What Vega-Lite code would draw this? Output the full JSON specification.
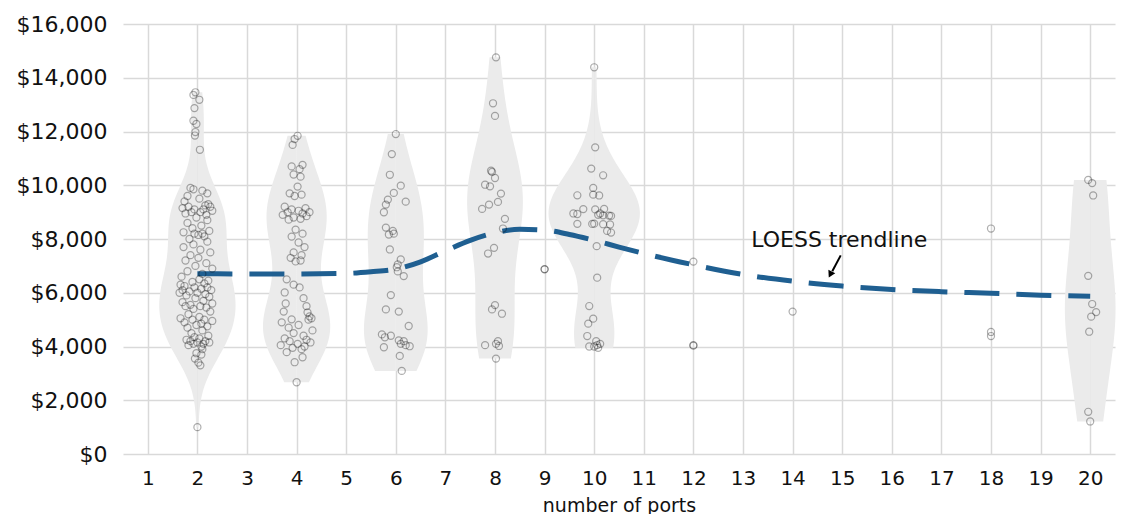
{
  "$schema": "https://vega.github.io/schema/vega-lite/v6.json",
  "width": 992,
  "height": 430,
  "autosize": "none",
  "padding": {"left": 123, "top": 24, "right": 12, "bottom": 60},
  "background": "white",
  "config": {
    "view": {"stroke": null},
    "font": "DejaVu Sans",
    "axis": {"labelFont": "DejaVu Sans", "titleFont": "DejaVu Sans", "labelColor": "#111", "titleColor": "#111", "gridColor": "#d9d9d9", "gridWidth": 1.5, "domain": false, "ticks": false}
  },
  "datasets": {
    "prices": [
      {"port":2,"price":13460,"jit":-0.04},{"port":2,"price":13360,"jit":-0.08},{"port":2,"price":13180,"jit":0.04},{"port":2,"price":12870,"jit":-0.06},{"port":2,"price":12400,"jit":-0.08},{"port":2,"price":12280,"jit":-0.02},{"port":2,"price":11980,"jit":-0.04},{"port":2,"price":11850,"jit":-0.05},{"port":2,"price":11320,"jit":0.05},
      {"port":2,"price":9900,"jit":-0.14},{"port":2,"price":9850,"jit":-0.08},{"port":2,"price":9800,"jit":0.1},{"port":2,"price":9700,"jit":0.2},{"port":2,"price":9600,"jit":-0.2},{"port":2,"price":9500,"jit":0.04},{"port":2,"price":9400,"jit":-0.26},
      {"port":2,"price":9300,"jit":0.22},{"port":2,"price":9250,"jit":0.16},{"port":2,"price":9200,"jit":-0.18},{"port":2,"price":9200,"jit":0.26},{"port":2,"price":9150,"jit":-0.3},{"port":2,"price":9100,"jit":0.12},{"port":2,"price":9100,"jit":-0.06},{"port":2,"price":9050,"jit":0.3},{"port":2,"price":9000,"jit":-0.12},{"port":2,"price":9000,"jit":0.06},{"port":2,"price":8950,"jit":-0.24},{"port":2,"price":8900,"jit":0.18},
      {"port":2,"price":8800,"jit":-0.02},{"port":2,"price":8700,"jit":0.2},{"port":2,"price":8600,"jit":-0.2},{"port":2,"price":8500,"jit":0.08},{"port":2,"price":8400,"jit":-0.1},
      {"port":2,"price":8300,"jit":0.24},{"port":2,"price":8250,"jit":-0.28},{"port":2,"price":8200,"jit":0.1},{"port":2,"price":8200,"jit":-0.06},{"port":2,"price":8150,"jit":0.02},{"port":2,"price":8100,"jit":0.14},{"port":2,"price":8000,"jit":-0.16},
      {"port":2,"price":7900,"jit":0.2},{"port":2,"price":7800,"jit":-0.08},{"port":2,"price":7700,"jit":-0.28},{"port":2,"price":7600,"jit":0.06},{"port":2,"price":7500,"jit":0.26},{"port":2,"price":7400,"jit":-0.14},{"port":2,"price":7300,"jit":0.02},{"port":2,"price":7200,"jit":-0.24},{"port":2,"price":7100,"jit":0.18},{"port":2,"price":7000,"jit":-0.04},
      {"port":2,"price":6900,"jit":0.3},{"port":2,"price":6800,"jit":-0.2},{"port":2,"price":6700,"jit":0.1},{"port":2,"price":6600,"jit":-0.32},{"port":2,"price":6500,"jit":0.04},{"port":2,"price":6450,"jit":0.22},{"port":2,"price":6400,"jit":-0.1},{"port":2,"price":6350,"jit":0.14},
      {"port":2,"price":6300,"jit":-0.34},{"port":2,"price":6250,"jit":-0.26},{"port":2,"price":6200,"jit":0.2},{"port":2,"price":6200,"jit":-0.06},{"port":2,"price":6150,"jit":0.08},{"port":2,"price":6100,"jit":-0.3},{"port":2,"price":6100,"jit":0.28},{"port":2,"price":6050,"jit":-0.16},{"port":2,"price":6000,"jit":0.0},{"port":2,"price":6000,"jit":-0.36},{"port":2,"price":5950,"jit":0.16},{"port":2,"price":5900,"jit":-0.22},
      {"port":2,"price":5850,"jit":0.24},{"port":2,"price":5800,"jit":-0.04},{"port":2,"price":5700,"jit":0.12},{"port":2,"price":5650,"jit":-0.3},{"port":2,"price":5600,"jit":0.3},{"port":2,"price":5550,"jit":-0.14},{"port":2,"price":5500,"jit":0.06},{"port":2,"price":5500,"jit":-0.24},{"port":2,"price":5450,"jit":0.18},{"port":2,"price":5400,"jit":-0.08},
      {"port":2,"price":5300,"jit":0.26},{"port":2,"price":5200,"jit":-0.18},{"port":2,"price":5100,"jit":0.04},{"port":2,"price":5050,"jit":-0.34},{"port":2,"price":5000,"jit":0.14},{"port":2,"price":5000,"jit":-0.1},{"port":2,"price":4950,"jit":0.3},{"port":2,"price":4900,"jit":-0.26},{"port":2,"price":4850,"jit":0.08},{"port":2,"price":4800,"jit":-0.02},{"port":2,"price":4750,"jit":0.2},{"port":2,"price":4700,"jit":-0.2},
      {"port":2,"price":4600,"jit":0.1},{"port":2,"price":4500,"jit":-0.12},{"port":2,"price":4400,"jit":0.22},{"port":2,"price":4350,"jit":-0.06},{"port":2,"price":4300,"jit":0.04},{"port":2,"price":4250,"jit":-0.22},{"port":2,"price":4200,"jit":0.16},{"port":2,"price":4200,"jit":-0.14},{"port":2,"price":4150,"jit":0.0},{"port":2,"price":4150,"jit":0.24},{"port":2,"price":4100,"jit":-0.08},{"port":2,"price":4100,"jit":0.12},{"port":2,"price":4050,"jit":-0.18},{"port":2,"price":4000,"jit":0.08},
      {"port":2,"price":3900,"jit":0.1},{"port":2,"price":3750,"jit":-0.02},{"port":2,"price":3700,"jit":0.08},{"port":2,"price":3550,"jit":-0.05},{"port":2,"price":3400,"jit":0.02},{"port":2,"price":3300,"jit":0.06},{"port":2,"price":1000,"jit":0.0},

      {"port":4,"price":11840,"jit":0.02},{"port":4,"price":11720,"jit":-0.04},{"port":4,"price":11500,"jit":-0.08},{"port":4,"price":10760,"jit":0.12},{"port":4,"price":10700,"jit":-0.1},{"port":4,"price":10600,"jit":0.06},{"port":4,"price":10400,"jit":-0.06},{"port":4,"price":10320,"jit":0.08},{"port":4,"price":9950,"jit":0.02},{"port":4,"price":9700,"jit":-0.14},{"port":4,"price":9650,"jit":0.1},{"port":4,"price":9600,"jit":-0.04},
      {"port":4,"price":9200,"jit":-0.24},{"port":4,"price":9150,"jit":0.18},{"port":4,"price":9100,"jit":-0.1},{"port":4,"price":9050,"jit":0.04},{"port":4,"price":9000,"jit":-0.18},{"port":4,"price":9000,"jit":0.26},{"port":4,"price":8950,"jit":0.12},{"port":4,"price":8900,"jit":-0.28},{"port":4,"price":8850,"jit":0.2},{"port":4,"price":8800,"jit":-0.06},{"port":4,"price":8750,"jit":0.08},{"port":4,"price":8720,"jit":-0.16},
      {"port":4,"price":8350,"jit":-0.02},{"port":4,"price":8200,"jit":0.12},{"port":4,"price":8090,"jit":-0.1},{"port":4,"price":7870,"jit":0.04},{"port":4,"price":7700,"jit":0.16},{"port":4,"price":7500,"jit":-0.06},{"port":4,"price":7400,"jit":0.1},{"port":4,"price":7300,"jit":-0.12},{"port":4,"price":7200,"jit":0.08},{"port":4,"price":7165,"jit":-0.02},
      {"port":4,"price":6500,"jit":-0.2},{"port":4,"price":6300,"jit":-0.06},{"port":4,"price":6200,"jit":0.06},{"port":4,"price":6010,"jit":-0.24},{"port":4,"price":5800,"jit":0.14},{"port":4,"price":5600,"jit":-0.22},{"port":4,"price":5500,"jit":0.2},{"port":4,"price":5300,"jit":-0.26},{"port":4,"price":5270,"jit":0.22},{"port":4,"price":5120,"jit":0.26},{"port":4,"price":5050,"jit":0.3},{"port":4,"price":5010,"jit":-0.1},
      {"port":4,"price":5000,"jit":0.24},{"port":4,"price":4900,"jit":-0.3},{"port":4,"price":4800,"jit":0.04},{"port":4,"price":4700,"jit":-0.16},{"port":4,"price":4600,"jit":0.32},{"port":4,"price":4500,"jit":-0.06},{"port":4,"price":4400,"jit":0.14},{"port":4,"price":4300,"jit":-0.24},{"port":4,"price":4250,"jit":0.2},{"port":4,"price":4200,"jit":-0.14},{"port":4,"price":4150,"jit":0.28},{"port":4,"price":4100,"jit":0.02},{"port":4,"price":4050,"jit":-0.32},{"port":4,"price":4000,"jit":0.16},{"port":4,"price":3950,"jit":-0.08},{"port":4,"price":3900,"jit":0.1},
      {"port":4,"price":3790,"jit":-0.2},{"port":4,"price":3600,"jit":0.12},{"port":4,"price":3415,"jit":-0.04},{"port":4,"price":2670,"jit":0.0},

      {"port":6,"price":11905,"jit":0.0},{"port":6,"price":11160,"jit":-0.08},{"port":6,"price":10390,"jit":-0.12},{"port":6,"price":9985,"jit":0.1},{"port":6,"price":9714,"jit":-0.04},{"port":6,"price":9466,"jit":-0.16},{"port":6,"price":9390,"jit":0.2},{"port":6,"price":9280,"jit":-0.2},{"port":6,"price":8995,"jit":-0.24},{"port":6,"price":8425,"jit":-0.2},{"port":6,"price":8300,"jit":-0.06},{"port":6,"price":8166,"jit":-0.14},{"port":6,"price":8200,"jit":-0.04},
      {"port":6,"price":7610,"jit":-0.12},{"port":6,"price":7240,"jit":0.1},{"port":6,"price":7054,"jit":0.04},{"port":6,"price":6950,"jit":0.02},{"port":6,"price":6795,"jit":0.04},{"port":6,"price":6620,"jit":0.16},{"port":6,"price":5914,"jit":-0.1},{"port":6,"price":5380,"jit":-0.2},{"port":6,"price":5300,"jit":0.06},{"port":6,"price":4763,"jit":0.26},
      {"port":6,"price":4450,"jit":-0.28},{"port":6,"price":4400,"jit":-0.1},{"port":6,"price":4343,"jit":-0.22},{"port":6,"price":4230,"jit":0.06},{"port":6,"price":4200,"jit":0.16},{"port":6,"price":4100,"jit":0.1},{"port":6,"price":4050,"jit":0.2},{"port":6,"price":4010,"jit":0.28},{"port":6,"price":3972,"jit":-0.24},{"port":6,"price":3650,"jit":0.08},{"port":6,"price":3093,"jit":0.12},

      {"port":8,"price":14760,"jit":0.02},{"port":8,"price":13050,"jit":-0.04},{"port":8,"price":12580,"jit":0.0},{"port":8,"price":10540,"jit":-0.08},{"port":8,"price":10500,"jit":-0.06},{"port":8,"price":10270,"jit":0.0},{"port":8,"price":10020,"jit":-0.2},{"port":8,"price":9960,"jit":-0.1},{"port":8,"price":9690,"jit":0.12},{"port":8,"price":9380,"jit":0.06},{"port":8,"price":9280,"jit":-0.12},{"port":8,"price":9120,"jit":-0.26},{"port":8,"price":8750,"jit":0.2},{"port":8,"price":8390,"jit":0.16},
      {"port":8,"price":7670,"jit":-0.02},{"port":8,"price":7460,"jit":-0.14},{"port":8,"price":5540,"jit":0.0},{"port":8,"price":5380,"jit":-0.06},{"port":8,"price":5220,"jit":0.14},{"port":8,"price":4200,"jit":0.06},{"port":8,"price":4100,"jit":0.02},{"port":8,"price":4050,"jit":-0.2},{"port":8,"price":4020,"jit":0.08},{"port":8,"price":3550,"jit":0.02},

      {"port":9,"price":6870,"jit":0.0},{"port":9,"price":6880,"jit":0.0},

      {"port":10,"price":14390,"jit":0.0},{"port":10,"price":11410,"jit":0.02},{"port":10,"price":10620,"jit":-0.06},{"port":10,"price":10370,"jit":0.18},{"port":10,"price":9900,"jit":-0.02},{"port":10,"price":9650,"jit":-0.02},{"port":10,"price":9626,"jit":-0.34},{"port":10,"price":9620,"jit":0.1},
      {"port":10,"price":9113,"jit":-0.22},{"port":10,"price":9100,"jit":0.02},{"port":10,"price":9120,"jit":0.2},{"port":10,"price":8950,"jit":-0.42},{"port":10,"price":8930,"jit":-0.34},{"port":10,"price":8900,"jit":0.08},{"port":10,"price":8880,"jit":0.18},{"port":10,"price":8870,"jit":0.3},{"port":10,"price":8860,"jit":0.34},{"port":10,"price":8950,"jit":0.12},
      {"port":10,"price":8563,"jit":-0.34},{"port":10,"price":8560,"jit":-0.04},{"port":10,"price":8570,"jit":0.0},{"port":10,"price":8550,"jit":0.18},{"port":10,"price":8540,"jit":0.32},{"port":10,"price":8300,"jit":0.26},{"port":10,"price":8240,"jit":0.34},{"port":10,"price":7733,"jit":0.05},{"port":10,"price":6560,"jit":0.06},
      {"port":10,"price":5505,"jit":-0.1},{"port":10,"price":5037,"jit":-0.02},{"port":10,"price":4850,"jit":-0.12},{"port":10,"price":4390,"jit":-0.14},{"port":10,"price":4200,"jit":0.04},{"port":10,"price":4100,"jit":0.12},{"port":10,"price":4050,"jit":0.06},{"port":10,"price":4000,"jit":-0.1},{"port":10,"price":4000,"jit":0.0},{"port":10,"price":3950,"jit":0.08},

      {"port":12,"price":7160,"jit":0.0},{"port":12,"price":4050,"jit":0.0},{"port":12,"price":4030,"jit":0.0},
      {"port":14,"price":5300,"jit":0.0},
      {"port":18,"price":8390,"jit":0.0},{"port":18,"price":4540,"jit":0.0},{"port":18,"price":4390,"jit":0.0},
      {"port":20,"price":10200,"jit":-0.04},{"port":20,"price":10080,"jit":0.04},{"port":20,"price":9620,"jit":0.06},{"port":20,"price":6630,"jit":-0.04},{"port":20,"price":5580,"jit":0.04},{"port":20,"price":5280,"jit":0.12},{"port":20,"price":5110,"jit":0.02},{"port":20,"price":4550,"jit":-0.02},{"port":20,"price":1570,"jit":-0.04},{"port":20,"price":1210,"jit":0.0}
    ],
    "trend": [
      {"port":2,"fit":6707},{"port":3,"fit":6700},{"port":4,"fit":6700},{"port":5,"fit":6720},{"port":5.5,"fit":6780},{"port":6,"fit":6880},{"port":6.5,"fit":7150},{"port":7,"fit":7560},{"port":7.5,"fit":7950},{"port":8,"fit":8230},{"port":8.5,"fit":8360},{"port":9,"fit":8330},{"port":9.5,"fit":8170},{"port":10,"fit":7950},{"port":10.5,"fit":7700},{"port":11,"fit":7460},{"port":12,"fit":7040},{"port":13,"fit":6680},{"port":14,"fit":6430},{"port":15,"fit":6250},{"port":16,"fit":6120},{"port":17,"fit":6040},{"port":18,"fit":5980},{"port":19,"fit":5910},{"port":20,"fit":5870}
    ]
  },
  "data": {"name": "prices"},
  "resolve": {"scale": {"x": "independent"}},
  "layer": [
    {
      "transform": [{"filter": "datum.port == 2"}, {"density": "price", "extent": [1000, 13460], "steps": 120}],
      "mark": {"type": "area", "orient": "horizontal", "color": "#ebebeb"},
      "encoding": {
        "y": {"field": "value", "type": "quantitative", "scale": {"domain": [0, 16000], "nice": false}, "title": null,
              "axis": {"values": [0,2000,4000,6000,8000,10000,12000,14000,16000], "format": "$,.0f", "grid": true, "labelFontSize": 22, "labelPadding": 16, "title": null}},
        "x": {"field": "density", "type": "quantitative", "stack": null, "scale": {"domain": [-0.0003, 0.0037], "nice": false}, "axis": null},
        "x2": {"datum": 0}
      }
    },
    {
      "transform": [{"filter": "datum.port == 2"}, {"density": "price", "extent": [1000, 13460], "steps": 120}],
      "mark": {"type": "area", "orient": "horizontal", "color": "#ebebeb"},
      "encoding": {
        "y": {"field": "value", "type": "quantitative", "title": null},
        "x": {"field": "density", "type": "quantitative", "stack": null, "scale": {"domain": [0.0003, -0.0037], "nice": false}, "axis": null},
        "x2": {"datum": 0}
      }
    },
    {
      "transform": [{"filter": "datum.port == 4"}, {"density": "price", "extent": [2670, 11840], "steps": 120}],
      "mark": {"type": "area", "orient": "horizontal", "color": "#ebebeb"},
      "encoding": {
        "y": {"field": "value", "type": "quantitative", "title": null},
        "x": {"field": "density", "type": "quantitative", "stack": null, "scale": {"domain": [-0.0007, 0.0033], "nice": false}, "axis": null},
        "x2": {"datum": 0}
      }
    },
    {
      "transform": [{"filter": "datum.port == 4"}, {"density": "price", "extent": [2670, 11840], "steps": 120}],
      "mark": {"type": "area", "orient": "horizontal", "color": "#ebebeb"},
      "encoding": {
        "y": {"field": "value", "type": "quantitative", "title": null},
        "x": {"field": "density", "type": "quantitative", "stack": null, "scale": {"domain": [0.0007, -0.0033], "nice": false}, "axis": null},
        "x2": {"datum": 0}
      }
    },
    {
      "transform": [{"filter": "datum.port == 6"}, {"density": "price", "extent": [3093, 11905], "steps": 120}],
      "mark": {"type": "area", "orient": "horizontal", "color": "#ebebeb"},
      "encoding": {
        "y": {"field": "value", "type": "quantitative", "title": null},
        "x": {"field": "density", "type": "quantitative", "stack": null, "scale": {"domain": [-0.0011, 0.0029], "nice": false}, "axis": null},
        "x2": {"datum": 0}
      }
    },
    {
      "transform": [{"filter": "datum.port == 6"}, {"density": "price", "extent": [3093, 11905], "steps": 120}],
      "mark": {"type": "area", "orient": "horizontal", "color": "#ebebeb"},
      "encoding": {
        "y": {"field": "value", "type": "quantitative", "title": null},
        "x": {"field": "density", "type": "quantitative", "stack": null, "scale": {"domain": [0.0011, -0.0029], "nice": false}, "axis": null},
        "x2": {"datum": 0}
      }
    },
    {
      "transform": [{"filter": "datum.port == 8"}, {"density": "price", "extent": [3550, 14760], "steps": 120}],
      "mark": {"type": "area", "orient": "horizontal", "color": "#ebebeb"},
      "encoding": {
        "y": {"field": "value", "type": "quantitative", "title": null},
        "x": {"field": "density", "type": "quantitative", "stack": null, "scale": {"domain": [-0.0015, 0.0025], "nice": false}, "axis": null},
        "x2": {"datum": 0}
      }
    },
    {
      "transform": [{"filter": "datum.port == 8"}, {"density": "price", "extent": [3550, 14760], "steps": 120}],
      "mark": {"type": "area", "orient": "horizontal", "color": "#ebebeb"},
      "encoding": {
        "y": {"field": "value", "type": "quantitative", "title": null},
        "x": {"field": "density", "type": "quantitative", "stack": null, "scale": {"domain": [0.0015, -0.0025], "nice": false}, "axis": null},
        "x2": {"datum": 0}
      }
    },
    {
      "transform": [{"filter": "datum.port == 10"}, {"density": "price", "extent": [3950, 14390], "steps": 120}],
      "mark": {"type": "area", "orient": "horizontal", "color": "#ebebeb"},
      "encoding": {
        "y": {"field": "value", "type": "quantitative", "title": null},
        "x": {"field": "density", "type": "quantitative", "stack": null, "scale": {"domain": [-0.0019, 0.0021], "nice": false}, "axis": null},
        "x2": {"datum": 0}
      }
    },
    {
      "transform": [{"filter": "datum.port == 10"}, {"density": "price", "extent": [3950, 14390], "steps": 120}],
      "mark": {"type": "area", "orient": "horizontal", "color": "#ebebeb"},
      "encoding": {
        "y": {"field": "value", "type": "quantitative", "title": null},
        "x": {"field": "density", "type": "quantitative", "stack": null, "scale": {"domain": [0.0019, -0.0021], "nice": false}, "axis": null},
        "x2": {"datum": 0}
      }
    },
    {
      "transform": [{"filter": "datum.port == 20"}, {"density": "price", "extent": [1210, 10200], "steps": 120}],
      "mark": {"type": "area", "orient": "horizontal", "color": "#ebebeb"},
      "encoding": {
        "y": {"field": "value", "type": "quantitative", "title": null},
        "x": {"field": "density", "type": "quantitative", "stack": null, "scale": {"domain": [-0.0039, 0.0001], "nice": false}, "axis": null},
        "x2": {"datum": 0}
      }
    },
    {
      "transform": [{"filter": "datum.port == 20"}, {"density": "price", "extent": [1210, 10200], "steps": 120}],
      "mark": {"type": "area", "orient": "horizontal", "color": "#ebebeb"},
      "encoding": {
        "y": {"field": "value", "type": "quantitative", "title": null},
        "x": {"field": "density", "type": "quantitative", "stack": null, "scale": {"domain": [0.0039, -0.0001], "nice": false}, "axis": null},
        "x2": {"datum": 0}
      }
    },
    {
      "data": {"name": "trend"},
      "mark": {"type": "line", "color": "#1f5f91", "strokeWidth": 5, "strokeDash": [35, 17], "interpolate": "monotone"},
      "encoding": {
        "x": {"field": "port", "type": "quantitative", "scale": {"domain": [0.5, 20.5], "nice": false, "zero": false},
              "axis": {"values": [1,2,3,4,5,6,7,8,9,10,11,12,13,14,15,16,17,18,19,20], "grid": true, "labelFontSize": 20, "labelPadding": 14, "title": "number of ports", "titleFontSize": 19, "titleFontWeight": "normal", "titlePadding": 8}},
        "y": {"field": "fit", "type": "quantitative", "title": null}
      }
    },
    {
      "mark": {"type": "point", "shape": "circle", "filled": false, "size": 50, "stroke": "#000", "strokeOpacity": 0.45, "strokeWidth": 1.2},
      "encoding": {
        "x": {"field": "port", "type": "ordinal", "scale": {"type": "band", "domain": [1,2,3,4,5,6,7,8,9,10,11,12,13,14,15,16,17,18,19,20], "paddingInner": 0, "paddingOuter": 0}, "axis": null},
        "xOffset": {"field": "jit", "type": "quantitative", "scale": {"domain": [-1, 1], "range": [-24.8, 74.4]}},
        "y": {"field": "price", "type": "quantitative", "title": null}
      }
    },
    {
      "data": {"values": [{}]},
      "mark": {"type": "rule", "color": "#000", "strokeWidth": 2},
      "encoding": {
        "x": {"datum": 14.97, "type": "quantitative", "scale": {"domain": [0.5, 20.5], "nice": false, "zero": false}, "axis": null},
        "y": {"datum": 7390, "type": "quantitative"},
        "x2": {"datum": 14.8},
        "y2": {"datum": 6800}
      }
    },
    {
      "data": {"values": [{}]},
      "mark": {"type": "point", "shape": "triangle-down", "filled": true, "color": "#000", "size": 60, "angle": 27, "opacity": 1},
      "encoding": {
        "x": {"datum": 14.76, "type": "quantitative", "scale": {"domain": [0.5, 20.5], "nice": false, "zero": false}, "axis": null},
        "y": {"datum": 6680, "type": "quantitative"}
      }
    },
    {
      "data": {"values": [{}]},
      "mark": {"type": "text", "text": "LOESS trendline", "fontSize": 22, "color": "#111", "align": "center", "baseline": "middle"},
      "encoding": {
        "x": {"datum": 14.94, "type": "quantitative", "scale": {"domain": [0.5, 20.5], "nice": false, "zero": false}, "axis": null},
        "y": {"datum": 7980, "type": "quantitative"}
      }
    }
  ]
}
